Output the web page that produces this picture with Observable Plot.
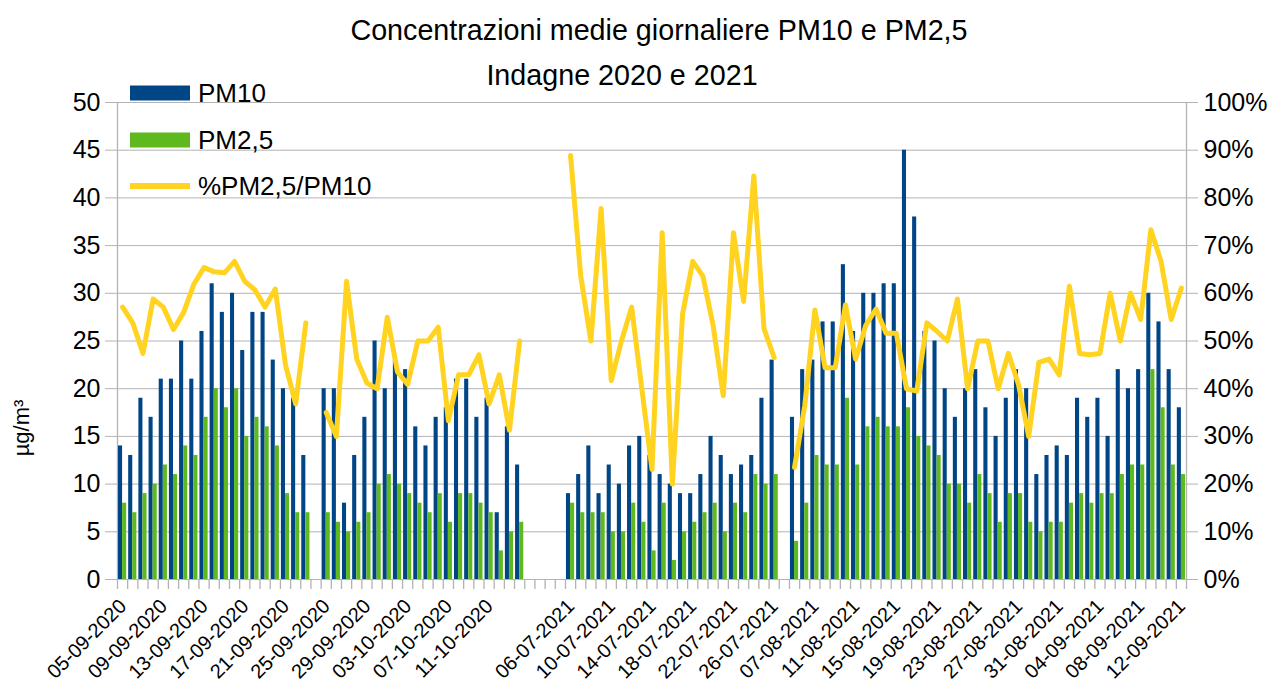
<!DOCTYPE html>
<html><head><meta charset="utf-8">
<script src="https://cdn.jsdelivr.net/npm/d3@7"></script>
<script src="https://cdn.jsdelivr.net/npm/@observablehq/plot@0.6"></script>
<style>
body{margin:0;background:#fff;font-family:"Liberation Sans",Arial,sans-serif;}
#wrap{position:relative;width:1274px;height:683px;overflow:hidden;}
#wrap svg{position:absolute;left:0;top:0;}
</style></head><body><div id="wrap"></div>
<script>
const categories = [
  "05-09-2020","06-09-2020","07-09-2020","08-09-2020","09-09-2020","10-09-2020","11-09-2020","12-09-2020","13-09-2020","14-09-2020",
  "15-09-2020","16-09-2020","17-09-2020","18-09-2020","19-09-2020","20-09-2020","21-09-2020","22-09-2020","23-09-2020","24-09-2020",
  "25-09-2020","26-09-2020","27-09-2020","28-09-2020","29-09-2020","30-09-2020","01-10-2020","02-10-2020","03-10-2020","04-10-2020",
  "05-10-2020","06-10-2020","07-10-2020","08-10-2020","09-10-2020","10-10-2020","11-10-2020","12-10-2020","13-10-2020","14-10-2020",
  "","","","",
  "06-07-2021","07-07-2021","08-07-2021","09-07-2021","10-07-2021","11-07-2021","12-07-2021","13-07-2021","14-07-2021","15-07-2021",
  "16-07-2021","17-07-2021","18-07-2021","19-07-2021","20-07-2021","21-07-2021","22-07-2021","23-07-2021","24-07-2021","25-07-2021",
  "26-07-2021","","05-08-2021","06-08-2021",
  "07-08-2021","08-08-2021","09-08-2021","10-08-2021","11-08-2021","12-08-2021","13-08-2021","14-08-2021","15-08-2021","16-08-2021",
  "17-08-2021","18-08-2021","19-08-2021","20-08-2021","21-08-2021","22-08-2021","23-08-2021","24-08-2021","25-08-2021","26-08-2021",
  "27-08-2021","28-08-2021","29-08-2021","30-08-2021","31-08-2021","01-09-2021","02-09-2021","03-09-2021","04-09-2021","05-09-2021",
  "06-09-2021","07-09-2021","08-09-2021","09-09-2021","10-09-2021","11-09-2021","12-09-2021"
];
const pm10 = [
  14,13,19,17,21,21,25,21,26,31,28,30,24,28,28,23,20,19,13,null,
  20,20,8,13,17,25,20,23,22,16,14,17,18,21,21,17,19,7,16,12,
  null,null,null,null,
  9,11,14,9,12,10,14,15,13,11,10,9,9,11,15,13,11,12,13,19,23,
  null,
  17,22,23,27,27,33,26,30,30,31,31,45,38,26,25,20,17,20,22,18,15,19,22,20,11,13,14,13,19,17,19,15,22,20,22,30,27,22,18
];
const pm25 = [
  8,7,9,10,12,11,14,13,17,20,18,20,15,17,16,14,9,7,7,null,
  7,6,5,6,7,10,11,10,9,8,7,9,6,9,9,8,7,3,5,6,
  null,null,null,null,
  8,7,7,7,5,5,8,6,3,8,2,5,6,7,8,5,8,7,11,10,11,
  null,
  4,8,13,12,12,19,12,16,17,16,16,18,15,14,13,10,10,8,11,9,6,9,9,6,5,6,6,8,9,8,9,9,11,12,12,22,18,12,11
];
// % PM2,5 / PM10
const pct = [
  57.1,53.8,47.4,58.8,57.1,52.4,56.0,61.9,65.4,64.5,64.3,66.7,62.5,60.7,57.1,60.9,45.0,36.8,53.8,null,
  35.0,30.0,62.5,46.2,41.2,40.0,55.0,43.5,40.9,50.0,50.0,52.9,33.3,42.9,42.9,47.1,36.8,42.9,31.3,50.0,
  null,null,null,null,
  88.9,63.6,50.0,77.8,41.7,50.0,57.1,40.0,23.1,72.7,20.0,55.6,66.7,63.6,53.3,38.5,72.7,58.3,84.6,52.6,46.5,
  null,
  23.5,36.4,56.5,44.4,44.4,57.6,46.2,53.3,56.7,51.6,51.6,40.0,39.5,53.8,52.0,50.0,58.8,40.0,50.0,50.0,40.0,47.4,40.9,30.0,
  45.5,46.2,42.9,61.5,47.4,47.1,47.4,60.0,50.0,60.0,54.5,73.3,66.7,54.5,61.1
];
const tickLabels = ["05-09-2020","09-09-2020","13-09-2020","17-09-2020","21-09-2020","25-09-2020","29-09-2020","03-10-2020",
  "07-10-2020","11-10-2020","06-07-2021","10-07-2021","14-07-2021","18-07-2021","22-07-2021","26-07-2021","07-08-2021",
  "11-08-2021","15-08-2021","19-08-2021","23-08-2021","27-08-2021","31-08-2021","04-09-2021","08-09-2021","12-09-2021"];
const yTicks = [0,5,10,15,20,25,30,35,40,45,50];
const seriesNames = ["PM10","PM2,5","%PM2,5/PM10"];
const colors = ["#004586","#5eb91e","#ffd320"];

const W = 1274, H = 683, L = 117, R = 1186, T = 102, B = 579;
const FONT = '"Liberation Sans", Arial, sans-serif';
const n = categories.length;
const idx = d3.range(n);
const grid = "#b3b3b3";

const chart = Plot.plot({
  width: W, height: H,
  marginLeft: L, marginRight: W - R, marginTop: T, marginBottom: H - B,
  style: {fontFamily: FONT, fontSize: "25px", color: "#000", background: "#fff", overflow: "visible"},
  x: {type: "linear", domain: [0, n], axis: null},
  y: {domain: [0, 50], axis: null},
  marks: [
    Plot.gridY(yTicks, {stroke: grid, strokeOpacity: 1, strokeWidth: 1}),
    Plot.ruleX([0, n], {stroke: grid, strokeWidth: 1.3}),
    Plot.axisX(d3.range(n + 1), {tickSize: 10, tickFormat: () => "", stroke: grid, strokeWidth: 1.3}),
    Plot.axisY(yTicks, {anchor: "left", tickSize: 12, tickPadding: 5, stroke: grid, fontSize: 25, fill: "#000"}),
    Plot.axisY(yTicks, {anchor: "right", tickSize: 11, tickPadding: 6, stroke: grid, fontSize: 25, fill: "#000",
      tickFormat: d => `${d * 2}%`}),
    Plot.rectY(idx.filter(i => pm10[i] != null), {
      x1: i => i, x2: i => i + 1, y1: 0, y2: i => pm10[i],
      insetLeft: 1.0, insetRight: 5.1, fill: colors[0]
    }),
    Plot.rectY(idx.filter(i => pm25[i] != null), {
      x1: i => i, x2: i => i + 1, y1: 0, y2: i => pm25[i],
      insetLeft: 5.1, insetRight: 1.0, fill: colors[1]
    }),
    Plot.line(idx, {
      x: i => i + 0.5, y: i => pct[i] == null ? null : pct[i] / 2,
      stroke: colors[2], strokeWidth: 5, strokeLinejoin: "round", strokeLinecap: "round"
    }),
    Plot.text(tickLabels, {
      x: d => categories.indexOf(d) + 0.5, y: 0, text: d => d,
      rotate: -45, textAnchor: "end", lineAnchor: "bottom",
      dx: 5, dy: 28, fontSize: 20, fill: "#000"
    })
  ]
});
const wrap = document.getElementById("wrap");
wrap.appendChild(chart);

// overlay: titles, legend, y label
const ov = d3.select(wrap).append("svg")
  .attr("width", W).attr("height", H)
  .style("font-family", FONT).style("pointer-events", "none");
ov.append("text").attr("x", 659).attr("y", 40).attr("text-anchor", "middle")
  .attr("font-size", 28.7).attr("fill", "#000").text("Concentrazioni medie giornaliere PM10 e PM2,5");
ov.append("text").attr("x", 622).attr("y", 85).attr("text-anchor", "middle")
  .attr("font-size", 28.7).attr("fill", "#000").text("Indagne 2020 e 2021");
ov.append("text").attr("transform", "translate(29,428) rotate(-90)").attr("text-anchor", "middle")
  .attr("font-size", 22).attr("fill", "#000").text("µg/m³");

const lg = ov.append("g");
const rowY = [93, 140, 186];
seriesNames.forEach((s, k) => {
  if (k < 2) {
    lg.append("rect").attr("x", 130).attr("y", rowY[k] - 7.5).attr("width", 60).attr("height", 15).attr("fill", colors[k]);
  } else {
    lg.append("line").attr("x1", 130).attr("x2", 190).attr("y1", rowY[k]).attr("y2", rowY[k])
      .attr("stroke", colors[k]).attr("stroke-width", 6);
  }
  lg.append("text").attr("x", 198).attr("y", rowY[k] + 9).attr("font-size", 26).attr("fill", "#000").text(s);
});
</script></body></html>
